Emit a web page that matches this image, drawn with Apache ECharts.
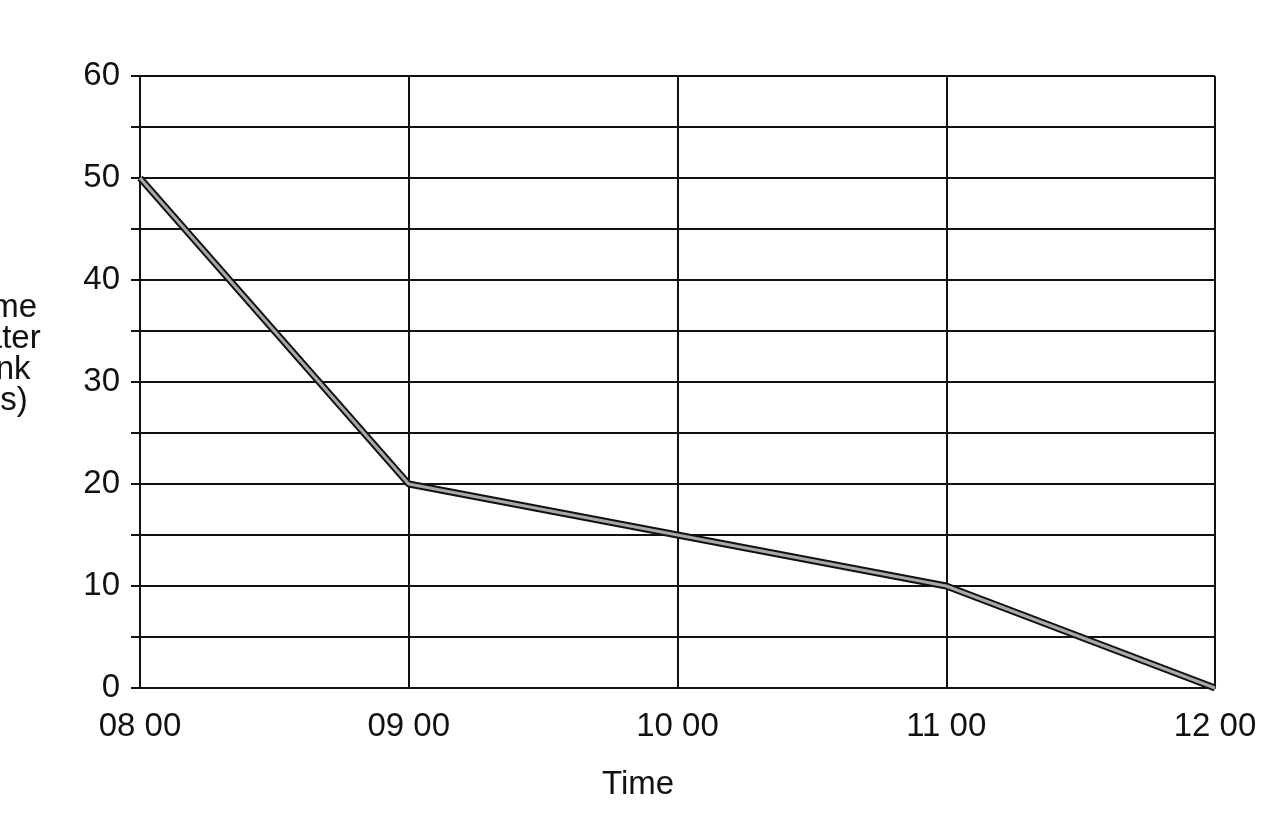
<!DOCTYPE html>
<html>
<head>
<meta charset="utf-8">
<script src="https://cdn.jsdelivr.net/npm/echarts@6/dist/echarts.min.js"></script>
<style>
html,body{margin:0;padding:0;background:#fff;}
#chart{width:1288px;height:835px;}
</style>
</head>
<body>
<div id="chart"></div>
<script>
const times = ['08 00', '09 00', '10 00', '11 00', '12 00'];
const volume = [50, 20, 15, 10, 0];
const yLabelTicks = [0, 10, 20, 30, 40, 50, 60];
const xTitle = 'Time';
const yTitle = 'Volume\nof water\nin tank\n(litres)';

const FONT = 'Liberation Sans, Arial, sans-serif';
const chart = echarts.init(document.getElementById('chart'));
chart.setOption({
  backgroundColor: '#fff',
  animation: false,
  grid: { left: 140, top: 76, width: 1075, height: 612 },
  xAxis: {
    type: 'category',
    data: times,
    boundaryGap: false,
    axisLine: { show: true, lineStyle: { color: '#111', width: 2 } },
    axisTick: { show: false },
    axisLabel: { color: '#111', fontSize: 33, fontFamily: FONT, margin: 22 },
    splitLine: { show: true, lineStyle: { color: '#111', width: 2 } }
  },
  yAxis: {
    type: 'value',
    min: 0, max: 60, interval: 5,
    axisLine: { show: true, lineStyle: { color: '#111', width: 2 } },
    axisTick: { show: true, length: 9, lineStyle: { color: '#111', width: 2 } },
    axisLabel: {
      color: '#111', fontSize: 33, fontFamily: FONT, margin: 20,
      formatter: v => yLabelTicks.includes(v) ? String(v) : ''
    },
    splitLine: { show: true, lineStyle: { color: '#111', width: 2 } }
  },
  graphic: [
    { type: 'text', x: 638, y: 785,
      style: { text: xTitle, fill: '#111', font: '33px ' + FONT, textAlign: 'center', textVerticalAlign: 'middle' } },
    { type: 'text', x: -18, y: 354,
      style: { text: yTitle, fill: '#111', font: '33px ' + FONT, lineHeight: 31, textAlign: 'center', textVerticalAlign: 'middle' } }
  ],
  series: [
    { type: 'line', data: volume, showSymbol: false, lineStyle: { color: '#111', width: 7 }, z: 3 },
    { type: 'line', data: volume, showSymbol: false, lineStyle: { color: '#a8a8a8', width: 3 }, z: 4 }
  ]
});
</script>
</body>
</html>
